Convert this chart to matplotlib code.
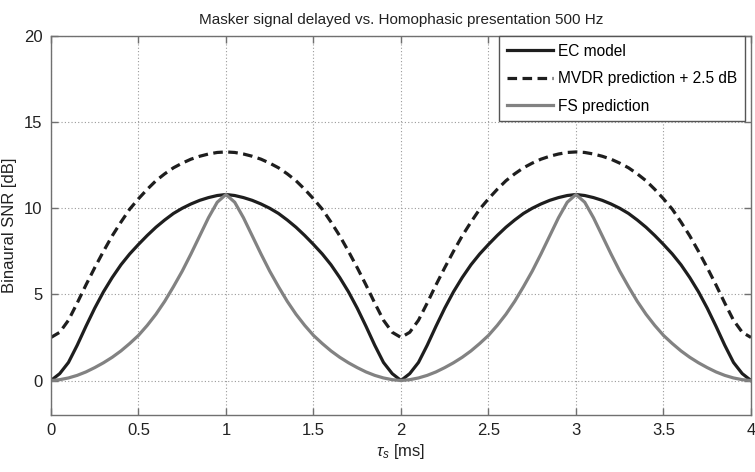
import matplotlib
matplotlib.use("Agg")
import matplotlib.pyplot as plt
import numpy as np

plt.rcParams['font.family'] = ['Liberation Sans', 'DejaVu Sans']
plt.rcParams['mathtext.fontset'] = 'custom'
plt.rcParams['mathtext.it'] = 'Liberation Sans:italic'
plt.rcParams['mathtext.rm'] = 'Liberation Sans'

tau = [0.00, 0.05, 0.10, 0.15, 0.20, 0.25, 0.30, 0.35, 0.40, 0.45,
       0.50, 0.55, 0.60, 0.65, 0.70, 0.75, 0.80, 0.85, 0.90, 0.95,
       1.00, 1.05, 1.10, 1.15, 1.20, 1.25, 1.30, 1.35, 1.40, 1.45,
       1.50, 1.55, 1.60, 1.65, 1.70, 1.75, 1.80, 1.85, 1.90, 1.95,
       2.00, 2.05, 2.10, 2.15, 2.20, 2.25, 2.30, 2.35, 2.40, 2.45,
       2.50, 2.55, 2.60, 2.65, 2.70, 2.75, 2.80, 2.85, 2.90, 2.95,
       3.00, 3.05, 3.10, 3.15, 3.20, 3.25, 3.30, 3.35, 3.40, 3.45,
       3.50, 3.55, 3.60, 3.65, 3.70, 3.75, 3.80, 3.85, 3.90, 3.95,
       4.00]

ec_model = [0.00, 0.40, 1.05, 2.05, 3.15, 4.20, 5.15, 5.98, 6.72, 7.35,
            7.90, 8.42, 8.90, 9.32, 9.70, 10.00, 10.25, 10.46, 10.62, 10.74,
            10.80, 10.74, 10.62, 10.46, 10.25, 10.00, 9.70, 9.32, 8.90, 8.42,
            7.90, 7.35, 6.72, 5.98, 5.15, 4.20, 3.15, 2.05, 1.05, 0.40,
            0.00, 0.40, 1.05, 2.05, 3.15, 4.20, 5.15, 5.98, 6.72, 7.35,
            7.90, 8.42, 8.90, 9.32, 9.70, 10.00, 10.25, 10.46, 10.62, 10.74,
            10.80, 10.74, 10.62, 10.46, 10.25, 10.00, 9.70, 9.32, 8.90, 8.42,
            7.90, 7.35, 6.72, 5.98, 5.15, 4.20, 3.15, 2.05, 1.05, 0.40,
            0.00]

mvdr_pred = [2.50, 2.80, 3.50, 4.50, 5.55, 6.55, 7.50, 8.40, 9.20, 9.95,
             10.55, 11.10, 11.60, 12.00, 12.35, 12.62, 12.85, 13.02, 13.15, 13.24,
             13.27, 13.24, 13.15, 13.02, 12.85, 12.62, 12.35, 12.00, 11.60, 11.10,
             10.55, 9.95, 9.20, 8.40, 7.50, 6.55, 5.55, 4.50, 3.50, 2.80,
             2.50, 2.80, 3.50, 4.50, 5.55, 6.55, 7.50, 8.40, 9.20, 9.95,
             10.55, 11.10, 11.60, 12.00, 12.35, 12.62, 12.85, 13.02, 13.15, 13.24,
             13.27, 13.24, 13.15, 13.02, 12.85, 12.62, 12.35, 12.00, 11.60, 11.10,
             10.55, 9.95, 9.20, 8.40, 7.50, 6.55, 5.55, 4.50, 3.50, 2.80,
             2.50]

fs_pred = [0.00, 0.05, 0.15, 0.30, 0.50, 0.75, 1.03, 1.35, 1.72, 2.15,
           2.62, 3.20, 3.85, 4.60, 5.45, 6.35, 7.35, 8.40, 9.45, 10.35,
           10.80, 10.35, 9.45, 8.40, 7.35, 6.35, 5.45, 4.60, 3.85, 3.20,
           2.62, 2.15, 1.72, 1.35, 1.03, 0.75, 0.50, 0.30, 0.15, 0.05,
           0.00, 0.05, 0.15, 0.30, 0.50, 0.75, 1.03, 1.35, 1.72, 2.15,
           2.62, 3.20, 3.85, 4.60, 5.45, 6.35, 7.35, 8.40, 9.45, 10.35,
           10.80, 10.35, 9.45, 8.40, 7.35, 6.35, 5.45, 4.60, 3.85, 3.20,
           2.62, 2.15, 1.72, 1.35, 1.03, 0.75, 0.50, 0.30, 0.15, 0.05,
           0.00]

xticks = [0, 0.5, 1, 1.5, 2, 2.5, 3, 3.5, 4]
xticklabels = ['0', '0.5', '1', '1.5', '2', '2.5', '3', '3.5', '4']
yticks = [0, 5, 10, 15, 20]

fig = plt.figure(figsize=(7.55, 4.72), dpi=100)
ax = fig.add_axes([0.0675, 0.1208, 0.9272, 0.8029])

ax.plot(tau, ec_model, color='#1e1e1e', lw=2.3, label='EC model')
ax.plot(tau, mvdr_pred, color='#1e1e1e', lw=2.3, ls=(0, (3, 1.7)), label='MVDR prediction + 2.5 dB')
ax.plot(tau, fs_pred, color='#828282', lw=2.3, label='FS prediction')

ax.set_xlim(0, 4)
ax.set_ylim(-2, 20)
ax.set_xticks(xticks)
ax.set_xticklabels(xticklabels)
ax.set_yticks(yticks)
ax.grid(True, color='#9a9a9a', ls=(0, (1, 2)), lw=0.8)
ax.tick_params(direction='in', top=True, right=True, length=5, width=1,
               color='#707070', labelsize=12, labelcolor='#222222', pad=6)
for s in ax.spines.values():
    s.set_color('#707070')
    s.set_linewidth(1.0)

ax.set_title('Masker signal delayed vs. Homophasic presentation 500 Hz',
             fontsize=11, color='#222222', pad=9)
ax.set_xlabel(r'$\tau_s$ [ms]', fontsize=12, color='#222222', labelpad=3)
ax.set_ylabel('Binaural SNR [dB]', fontsize=12, color='#222222', labelpad=5)

leg = ax.legend(loc='upper right', bbox_to_anchor=(0.9915, 1.0), fontsize=11.2,
                fancybox=False, framealpha=1, edgecolor='#555555',
                handlelength=3.0, handletextpad=0.3, borderpad=0.5,
                labelspacing=0.8, borderaxespad=0.0)
leg.get_frame().set_linewidth(1.0)

fig.savefig('out.png', dpi=100)
